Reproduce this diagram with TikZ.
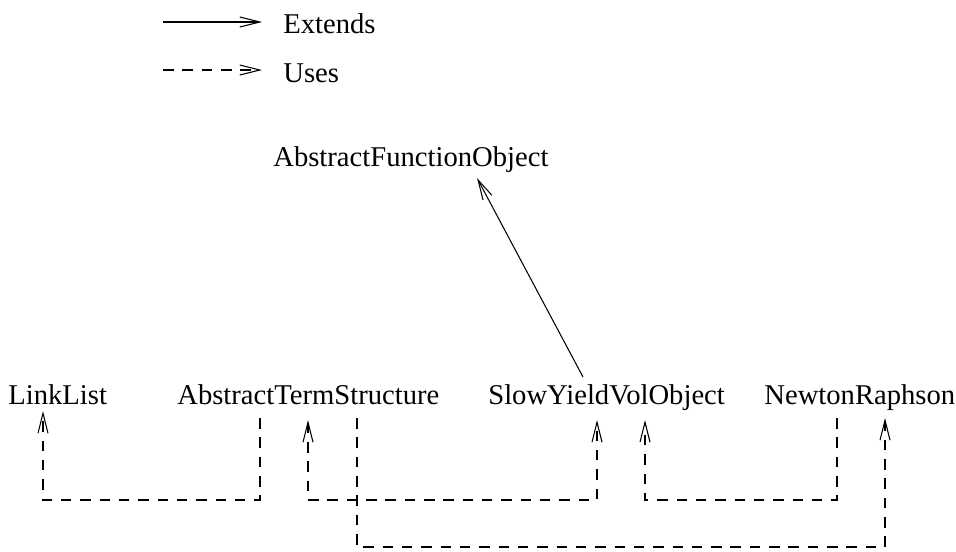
\documentclass[tikz,border=0pt]{standalone}
\usepackage{fontspec}
\setmainfont{Liberation Serif}
\usepackage{tikz}
\usetikzlibrary{
  arrows.meta,
  calc,
  positioning
}
\tikzset{
  classLabel/.style={
    anchor=base west,
    inner sep=0pt,
    font=\fontsize{16.3}{19}\selectfont
  },
  extendsEdge/.style={-{Straight Barb[length=4mm,width=2mm]}, line width=0.6pt},
  usesEdge/.style={
    -{Straight Barb[length=4mm,width=2mm]},
    line width=0.6pt,
    dash pattern=on 6pt off 5pt
  },
  usesBoth/.style={
    usesEdge,
    {Straight Barb[length=4mm,width=2mm]}-{Straight Barb[length=4mm,width=2mm]}
  }
}

\begin{document}
\begin{tikzpicture}[x=0.02cm,y=-0.02cm]
  \useasboundingbox (0,0) rectangle (956,551);

  % legend
  \node[classLabel] (extendsKey) at (283,33) {Extends};
  \node[classLabel] (usesKey) at (283,82) {Uses};
  \coordinate (extFrom) at (163,22);
  \coordinate (extTo) at (262,22);
  \coordinate (useFrom) at (163,70);
  \coordinate (useTo) at (262,70);
  \draw[extendsEdge] (extFrom) -- (extTo);
  \draw[usesEdge] (useFrom) -- (useTo);

  % classes
  \node[classLabel] (afo) at (273,166) {AbstractFunctionObject};
  \node[classLabel] (linkList) at (8,404) {LinkList};
  \node[classLabel] (ats) at (177,404) {AbstractTermStructure};
  \node[classLabel] (syvo) at (488,404) {SlowYieldVolObject};
  \node[classLabel] (newton) at (764,404) {NewtonRaphson};

  % ports below the class names
  \coordinate (llIn) at (43,411);
  \coordinate (atsOutA) at (260,418);
  \coordinate (atsIn) at (308,420);
  \coordinate (atsOutB) at (357,418);
  \coordinate (syvoInA) at (597,420);
  \coordinate (syvoInB) at (645,420);
  \coordinate (syvoTop) at (583,377);
  \coordinate (afoIn) at (477,178);
  \coordinate (nrOut) at (837,418);
  \coordinate (nrIn) at (885,418);

  \draw[extendsEdge] (syvoTop) -- (afoIn);

  \draw[usesEdge] (atsOutA) -- ++(0,82) -| (llIn);
  \draw[usesBoth] (atsIn) -- ++(0,80) -| (syvoInA);
  \draw[usesEdge] (atsOutB) -- ++(0,129) -| (nrIn);
  \draw[usesEdge] (nrOut) -- ++(0,82) -| (syvoInB);
\end{tikzpicture}
\end{document}
